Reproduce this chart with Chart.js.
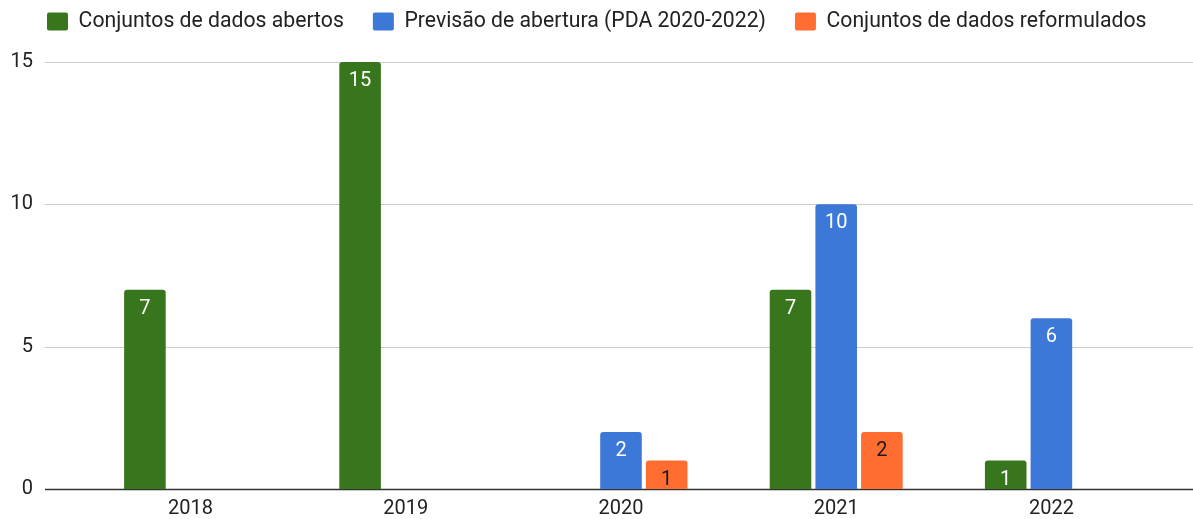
<!DOCTYPE html>
<html>
<head>
<meta charset="utf-8">
<script src="https://cdn.jsdelivr.net/npm/chart.js@4/dist/chart.umd.min.js"></script>
<style>
  html, body { margin: 0; padding: 0; background: #fff; }
  #wrap { width: 1193px; height: 519px; position: relative; }
</style>
</head>
<body>
<div id="wrap"><canvas id="chart"></canvas></div>
<script>
// Data
const years = ["2018", "2019", "2020", "2021", "2022"];
const abertos = [7, 15, null, 7, 1];
const previsao = [null, null, 2, 10, 6];
const reformulados = [null, null, 1, 2, null];
const yTicks = [0, 5, 10, 15];

const FONT = "Roboto, 'Liberation Sans', Arial, sans-serif";

// Horizontal grid lines that run past the category area, like the original
const gridPlugin = {
    id: "wideGrid",
    beforeDatasetsDraw(chart) {
        const ctx = chart.ctx;
        const y = chart.scales.y;
        const left = chart.chartArea.left - 38;
        const right = chart.width;
        ctx.save();
        yTicks.forEach(v => {
            const py = Math.round(y.getPixelForValue(v)) + 0.5;
            ctx.beginPath();
            ctx.strokeStyle = v === 0 ? "#333333" : "#cccccc";
            ctx.lineWidth = v === 0 ? 1.5 : 1;
            ctx.moveTo(left, py);
            ctx.lineTo(right, py);
            ctx.stroke();
        });
        ctx.restore();
    }
};

// Value labels drawn inside the top of each bar
const valuePlugin = {
    id: "barValues",
    afterDatasetsDraw(chart) {
        const ctx = chart.ctx;
        ctx.save();
        ctx.font = "20px " + FONT;
        ctx.textAlign = "center";
        ctx.textBaseline = "middle";
        chart.data.datasets.forEach((ds, i) => {
            const meta = chart.getDatasetMeta(i);
            meta.data.forEach((bar, j) => {
                const v = ds.data[j];
                if (v === null || v === undefined) return;
                ctx.fillStyle = ds.labelColor;
                ctx.fillText(String(v), bar.x, bar.y + 19);
            });
        });
        ctx.restore();
    }
};

// Legend: one row across the full width, taller box so the plot starts lower,
// nudged up and right after layout
const legendPlugin = {
    id: "legendPlace",
    beforeInit(chart) {
        const fit = chart.legend.fit;
        chart.legend.fit = function () {
            this.maxWidth = chart.width + 100;
            fit.call(this);
            this.height = 62;
        };
    },
    afterLayout(chart) {
        const lg = chart.legend;
        lg.top -= 18;
        lg.bottom -= 18;
        lg.left += 7;
        lg.right = chart.width + 100;
    }
};

new Chart(document.getElementById("chart"), {
    type: "bar",
    data: {
        labels: years,
        datasets: [
            {
                label: "Conjuntos de dados abertos",
                data: abertos,
                backgroundColor: "#38761d",
                labelColor: "#ffffff"
            },
            {
                label: "Previsão de abertura (PDA 2020-2022)",
                data: previsao,
                backgroundColor: "#3c78d8",
                labelColor: "#ffffff"
            },
            {
                label: "Conjuntos de dados reformulados",
                data: reformulados,
                backgroundColor: "#ff6d31",
                labelColor: "#1a1a1a"
            }
        ]
    },
    options: {
        responsive: true,
        maintainAspectRatio: false,
        animation: false,
        layout: {
            padding: { top: 0, left: 11, right: 34, bottom: 0 }
        },
        datasets: {
            bar: {
                categoryPercentage: 0.637,
                barPercentage: 0.91,
                borderRadius: 3,
                borderWidth: 0
            }
        },
        plugins: {
            legend: {
                position: "top",
                align: "start",
                labels: {
                    boxWidth: 21,
                    boxHeight: 18,
                    padding: 29,
                    useBorderRadius: true,
                    borderRadius: 2,
                    color: "#222222",
                    font: { family: FONT, size: 21.2 }
                }
            },
            tooltip: { enabled: false }
        },
        scales: {
            x: {
                grid: { display: false, drawTicks: false },
                border: { display: false },
                ticks: {
                    color: "#222222",
                    padding: 8,
                    maxRotation: 0,
                    font: { family: FONT, size: 20 }
                },
                afterFit(s) { s.height = 30; }
            },
            y: {
                min: 0,
                max: 15,
                grid: { display: false, drawTicks: false },
                border: { display: false },
                ticks: {
                    stepSize: 5,
                    color: "#222222",
                    padding: 50,
                    font: { family: FONT, size: 20 }
                },
                // fixed width; drop the big tick padding from the vertical overhang
                afterFit(s) {
                    s.width = 72;
                    s.paddingTop = 12;
                    s.paddingBottom = 12;
                }
            }
        }
    },
    plugins: [gridPlugin, valuePlugin, legendPlugin]
});
</script>
</body>
</html>
